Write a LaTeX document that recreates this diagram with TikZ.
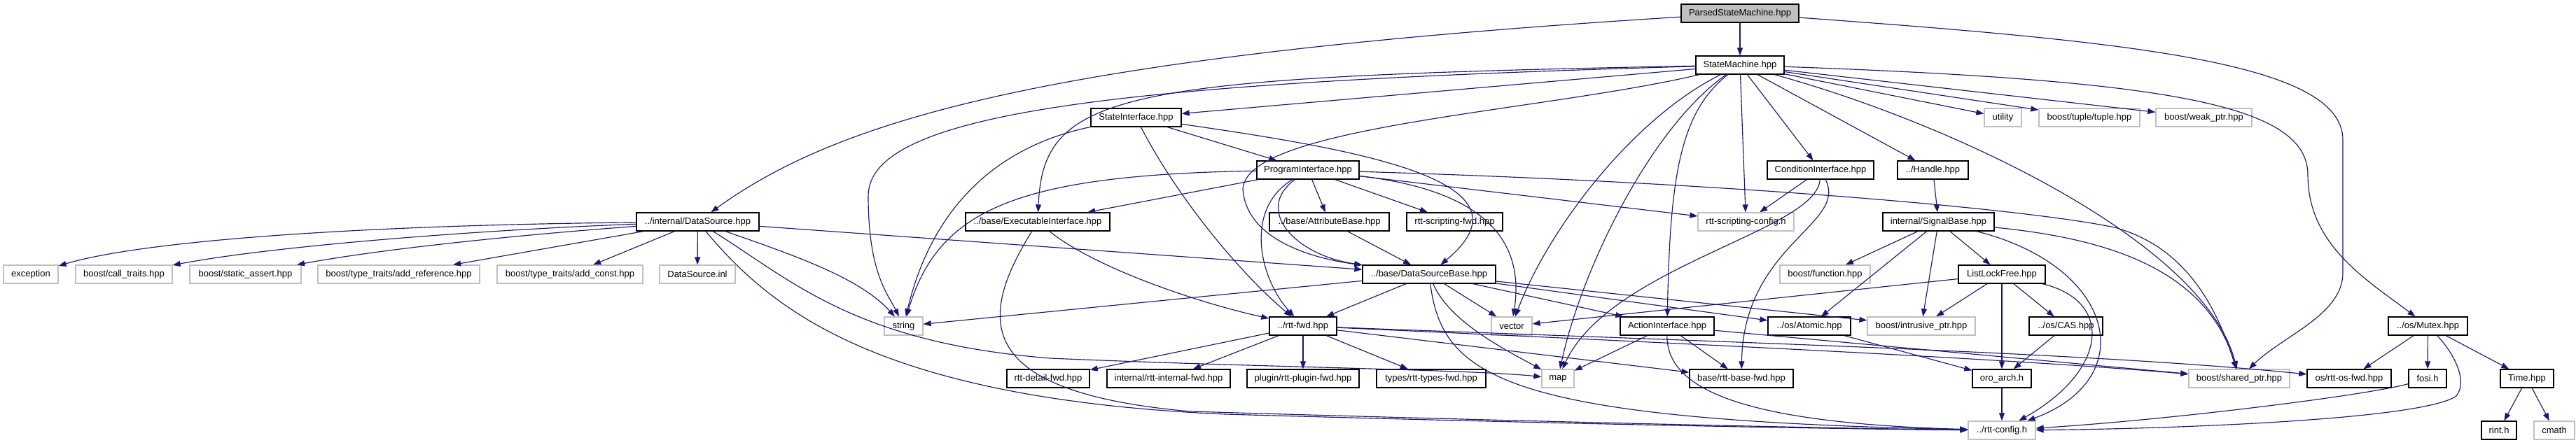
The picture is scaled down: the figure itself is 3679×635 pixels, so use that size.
\documentclass[tikz,border=0pt]{standalone}
\usepackage{fontspec}
\setmainfont{Liberation Sans}
\usetikzlibrary{arrows.meta}
\definecolor{edgeblue}{HTML}{191970}
\definecolor{extgray}{HTML}{BFBFBF}
\tikzset{
  nd/.style={draw=black, line width=1.3pt, minimum height=26pt, inner sep=0pt, font=\fontsize{13}{15}\selectfont, text=black},
  ext/.style={nd, draw=extgray},
  e/.style={draw=edgeblue, line width=1.15pt, -{Triangle[length=11pt,width=8pt]}},
}
\begin{document}
\begin{tikzpicture}[x=1pt,y=-1pt]
\useasboundingbox (0,0) rectangle (3679,635);
% rank 0
\node[nd, minimum width=168pt, fill=extgray] (psm) at (2485,19) {ParsedStateMachine.hpp};
% rank 1
\node[nd, minimum width=126pt] (sm) at (2485,93) {StateMachine.hpp};
% rank 2
\node[nd, minimum width=129pt] (si) at (1622.5,168) {StateInterface.hpp};
\node[ext, minimum width=53pt] (util) at (2860.5,168) {utility};
\node[ext, minimum width=144pt] (tuple) at (2984,168) {boost/tuple/tuple.hpp};
\node[ext, minimum width=137pt] (weak) at (3147.5,168) {boost/weak\_ptr.hpp};
% rank 3
\node[nd, minimum width=146pt] (pi) at (1868,243) {ProgramInterface.hpp};
\node[nd, minimum width=152pt] (ci) at (2600,243) {ConditionInterface.hpp};
\node[nd, minimum width=101pt] (handle) at (2760.5,243) {../Handle.hpp};
% rank 4
\node[nd, minimum width=175pt] (ds) at (996.5,317) {../internal/DataSource.hpp};
\node[nd, minimum width=206pt] (ei) at (1482,317) {../base/ExecutableInterface.hpp};
\node[nd, minimum width=171pt] (ab) at (1898.5,317) {../base/AttributeBase.hpp};
\node[nd, minimum width=137pt] (sfwd) at (2077.5,317) {rtt-scripting-fwd.hpp};
\node[ext, minimum width=137pt] (scfg) at (2493.5,317) {rtt-scripting-config.h};
\node[nd, minimum width=159pt] (sb) at (2768.5,317) {internal/SignalBase.hpp};
% rank 5
\node[ext, minimum width=78pt] (exc) at (44,392) {exception};
\node[ext, minimum width=138pt] (ct) at (177,392) {boost/call\_traits.hpp};
\node[ext, minimum width=159pt] (sa) at (350.5,392) {boost/static\_assert.hpp};
\node[ext, minimum width=231pt] (ar) at (569.5,392) {boost/type\_traits/add\_reference.hpp};
\node[ext, minimum width=208pt] (ac) at (814,392) {boost/type\_traits/add\_const.hpp};
\node[ext, minimum width=108pt] (inl) at (996,392) {DataSource.inl};
\node[nd, minimum width=190pt] (dsb) at (2041,392) {../base/DataSourceBase.hpp};
\node[ext, minimum width=129pt] (func) at (2606.5,392) {boost/function.hpp};
\node[nd, minimum width=124pt] (llf) at (2859,392) {ListLockFree.hpp};
% rank 6
\node[ext, minimum width=55pt] (str) at (1290.5,466) {string};
\node[nd, minimum width=96pt] (fwd) at (1861,466) {../rtt-fwd.hpp};
\node[ext, minimum width=58pt] (vec) at (2159,466) {vector};
\node[nd, minimum width=134pt] (ai) at (2381,466) {ActionInterface.hpp};
\node[nd, minimum width=118pt] (atom) at (2584,466) {../os/Atomic.hpp};
\node[ext, minimum width=154pt] (iptr) at (2744,466) {boost/intrusive\_ptr.hpp};
\node[nd, minimum width=105pt] (cas) at (2950.5,466) {../os/CAS.hpp};
\node[nd, minimum width=113pt] (mutex) at (3467.5,466) {../os/Mutex.hpp};
% rank 7
\node[nd, minimum width=118pt] (dfwd) at (1497,541) {rtt-detail-fwd.hpp};
\node[nd, minimum width=176pt] (ifwd) at (1669,541) {internal/rtt-internal-fwd.hpp};
\node[nd, minimum width=160pt] (pfwd) at (1861,541) {plugin/rtt-plugin-fwd.hpp};
\node[nd, minimum width=156pt] (tfwd) at (2044,541) {types/rtt-types-fwd.hpp};
\node[ext, minimum width=46pt] (map) at (2225,541) {map};
\node[nd, minimum width=148pt] (bfwd) at (2487,541) {base/rtt-base-fwd.hpp};
\node[nd, minimum width=84pt] (oro) at (2859,541) {oro\_arch.h};
\node[ext, minimum width=144pt] (sp) at (3198,541) {boost/shared\_ptr.hpp};
\node[nd, minimum width=120pt] (osfwd) at (3355,541) {os/rtt-os-fwd.hpp};
\node[nd, minimum width=54pt] (fosi) at (3467,541) {fosi.h};
\node[nd, minimum width=76pt] (time) at (3609,541) {Time.hpp};
% rank 8
\node[ext, minimum width=96pt] (cfg) at (2859,615) {../rtt-config.h};
\node[nd, minimum width=50pt] (rint) at (3569,615) {rint.h};
\node[ext, minimum width=58pt] (cmath) at (3648,615) {cmath};

% ParsedStateMachine
\draw[e] (psm) -- (sm);
\draw[e] (psm) .. controls (1500,80) and (1200,170) .. (ds);
\draw[e] (psm) .. controls (3050,60) and (3346,90) .. (3346,200) -- (3346,390) .. controls (3346,450) and (3260,480) .. (sp);
% StateMachine
\draw[e] (sm) -- (si);
\draw[e] (sm) .. controls (1600,110) and (1490,130) .. (ei);
\draw[e] (sm) .. controls (1600,118) and (1240,160) .. (1240,280) .. controls (1240,390) and (1268,420) .. (str);
\draw[e] (sm) .. controls (2200,160) and (1780,180) .. (1775,270) .. controls (1780,345) and (1880,370) .. (dsb);
\draw[e] (sm) .. controls (2330,170) and (2210,330) .. (vec);
\draw[e] (sm) .. controls (2360,180) and (2260,380) .. (map);
\draw[e] (sm) .. controls (2400,160) and (2385,250) .. (ai);
\draw[e] (sm) -- (scfg);
\draw[e] (sm) -- (ci);
\draw[e] (sm) -- (handle);
\draw[e] (sm) .. controls (2800,180) and (3150,350) .. (sp);
\draw[e] (sm) -- (util);
\draw[e] (sm) -- (tuple);
\draw[e] (sm) -- (weak);
\draw[e] (sm) .. controls (3100,115) and (3296,150) .. (3296,250) .. controls (3296,350) and (3380,400) .. (mutex);
% StateInterface
\draw[e] (si) -- (pi);
\draw[e] (si) .. controls (1420,210) and (1330,300) .. (str);
\draw[e] (si) .. controls (1680,280) and (1770,390) .. (fwd);
\draw[e] (si) .. controls (1950,215) and (2200,260) .. (dsb);
% ProgramInterface
\draw[e] (pi) -- (ei);
\draw[e] (pi) .. controls (1450,250) and (1340,300) .. (str);
\draw[e] (pi) -- (ab);
\draw[e] (pi) -- (sfwd);
\draw[e] (pi) -- (scfg);
\draw[e] (pi) .. controls (2500,262) and (2900,300) .. (3020,325) .. controls (3110,350) and (3160,420) .. (sp);
\draw[e] (pi) .. controls (1790,300) and (1850,365) .. (dsb);
\draw[e] (pi) .. controls (1775,300) and (1800,400) .. (fwd);
\draw[e] (pi) .. controls (2100,270) and (2180,330) .. (vec);
% AttributeBase
\draw[e] (ab) -- (dsb);
% DataSource
\draw[e] (ds) .. controls (500,322) and (200,345) .. (exc);
\draw[e] (ds) .. controls (700,328) and (400,350) .. (ct);
\draw[e] (ds) .. controls (750,335) and (550,355) .. (sa);
\draw[e] (ds) -- (ar);
\draw[e] (ds) -- (ac);
\draw[e] (ds) -- (inl);
\draw[e] (ds) .. controls (1150,370) and (1230,400) .. (str);
\draw[e] (ds) .. controls (1130,400) and (1220,490) .. (1500,512) .. controls (1800,525) and (2100,528) .. (map);
\draw[e] (ds) .. controls (1100,440) and (1250,570) .. (1750,592) .. controls (2200,605) and (2600,613) .. (cfg);
\draw[e] (ds) -- (dsb);
% ExecutableInterface
\draw[e] (ei) .. controls (1560,380) and (1700,430) .. (fwd);
\draw[e] (ei) .. controls (1400,450) and (1380,560) .. (1700,588) .. controls (2200,603) and (2600,612) .. (cfg);
% DataSourceBase
\draw[e] (dsb) -- (str);
\draw[e] (dsb) -- (fwd);
\draw[e] (dsb) -- (vec);
\draw[e] (dsb) .. controls (2070,460) and (2150,500) .. (map);
\draw[e] (dsb) .. controls (2060,540) and (2150,600) .. (cfg);
\draw[e] (dsb) -- (ai);
\draw[e] (dsb) -- (atom);
\draw[e] (dsb) -- (iptr);
% rtt-fwd
\draw[e] (fwd) -- (dfwd);
\draw[e] (fwd) -- (ifwd);
\draw[e] (fwd) -- (pfwd);
\draw[e] (fwd) -- (tfwd);
\draw[e] (fwd) -- (bfwd);
\draw[e] (fwd) .. controls (2500,490) and (3000,505) .. (osfwd);
\draw[e] (fwd) .. controls (2500,495) and (2900,515) .. (sp);
% ActionInterface
\draw[e] (ai) -- (map);
\draw[e] (ai) -- (bfwd);
\draw[e] (ai) .. controls (2380,560) and (2500,605) .. (cfg);
\draw[e] (ai) -- (sp);
% Atomic
\draw[e] (atom) -- (oro);
% ConditionInterface
\draw[e] (ci) -- (scfg);
\draw[e] (ci) .. controls (2595,330) and (2300,380) .. (map);
\draw[e] (ci) .. controls (2640,320) and (2490,350) .. (bfwd);
% Handle
\draw[e] (handle) -- (sb);
% SignalBase
\draw[e] (sb) -- (func);
\draw[e] (sb) -- (atom);
\draw[e] (sb) -- (iptr);
\draw[e] (sb) -- (llf);
\draw[e] (sb) .. controls (3000,340) and (3150,380) .. (sp);
\draw[e] (sb) .. controls (3020,380) and (3060,540) .. (cfg);
% ListLockFree
\draw[e] (llf) -- (vec);
\draw[e] (llf) -- (iptr);
\draw[e] (llf) -- (oro);
\draw[e] (llf) -- (cas);
\draw[e] (llf) .. controls (3020,430) and (3010,530) .. (cfg);
% CAS, oro_arch
\draw[e] (cas) -- (oro);
\draw[e] (oro) -- (cfg);
% Mutex
\draw[e] (mutex) -- (osfwd);
\draw[e] (mutex) -- (fosi);
\draw[e] (mutex) .. controls (3505,505) and (3525,545) .. (3508,566) .. controls (3460,600) and (3100,613) .. (cfg);
\draw[e] (mutex) -- (time);
\draw[e] (fosi) .. controls (3380,565) and (3100,600) .. (cfg);
% Time
\draw[e] (time) -- (rint);
\draw[e] (time) -- (cmath);
\end{tikzpicture}
\end{document}
